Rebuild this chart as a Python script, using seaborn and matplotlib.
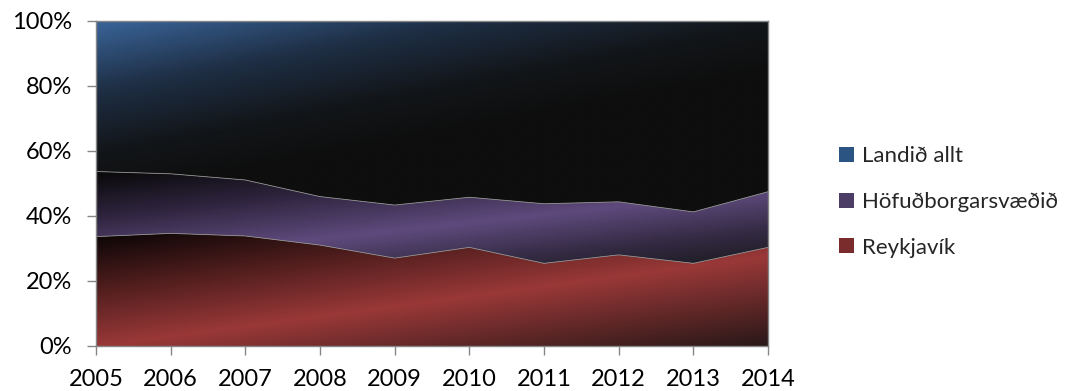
"""
100% stacked area chart: Reykjavík / Höfuðborgarsvæðið / Landið allt
"""
import numpy as np
import pandas as pd
import matplotlib
matplotlib.use('Agg')
import matplotlib.pyplot as plt
from matplotlib.colors import LinearSegmentedColormap
from matplotlib.patches import Patch
from matplotlib.ticker import PercentFormatter
import seaborn as sns

# data (shares in %)
years = [2005, 2006, 2007, 2008, 2009, 2010, 2011, 2012, 2013, 2014]
reykjavik = [33.6, 34.6, 33.8, 31.0, 27.0, 30.3, 25.4, 28.0, 25.4, 30.3]
hofudborg = [20.0, 18.3, 17.2, 14.9, 16.3, 15.4, 18.3, 16.3, 15.8, 17.1]
landid = [46.4, 47.1, 49.0, 54.1, 56.7, 54.3, 56.3, 55.7, 58.8, 52.6]
labels = ['Landið allt', 'Höfuðborgarsvæðið', 'Reykjavík']

sns.set_theme(style='white')
plt.rcParams['font.family'] = ['Lato', 'DejaVu Sans']

df = pd.DataFrame({'year': years, 'rvk': reykjavik, 'hof': hofudborg, 'land': landid})
tot = df[['rvk', 'hof', 'land']].sum(axis=1)
df['c1'] = df['rvk'] / tot
df['c2'] = (df['rvk'] + df['hof']) / tot
df['c3'] = 1.0


def gradient_fill(ax, x, lo, hi, stops, mode):
    """fill between lo and hi with a diagonal gradient (clipped image)"""
    poly = ax.fill_between(x, lo, hi, facecolor='none', edgecolor='none', zorder=1)
    y0, y1 = float(np.min(lo)), float(np.max(hi))
    u, v = np.meshgrid(np.linspace(0, 1, 400), np.linspace(0, 1, 200))
    if mode == 'up':
        t = (1 - v) * 1.5 + u
        t = np.clip(t / 1.4, 0, 1)
    else:
        t = v - 0.8 * u
        t = (t + 0.8) / 1.8
    cmap = LinearSegmentedColormap.from_list('g', stops)
    im = ax.imshow(t, cmap=cmap, vmin=0, vmax=1, origin='lower', aspect='auto',
                   extent=[x[0], x[-1], y0, y1], interpolation='bilinear', zorder=1)
    im.set_clip_path(poly.get_paths()[0], transform=ax.transData)
    return im


fig = plt.figure(figsize=(10.8, 3.91), dpi=100)
ax = fig.add_axes([96 / 1080, 45 / 391, 672 / 1080, 325.5 / 391])

x = np.array(years, dtype=float)
zeros = np.zeros(len(x))
gradient_fill(ax, x, zeros, df['c1'].values,
              [(0, '#2a1818'), (0.2, '#5c2626'), (0.44, '#9a3838'), (0.72, '#521e1e'), (1, '#0a0505')], 'down')
gradient_fill(ax, x, df['c1'].values, df['c2'].values,
              [(0, '#1c1a20'), (0.2, '#342b44'), (0.44, '#5f4a7d'), (0.72, '#2f253f'), (1, '#080808')], 'down')
gradient_fill(ax, x, df['c2'].values, df['c3'].values,
              [(0, '#3a659a'), (0.4, '#1e2e44'), (0.75, '#121518'), (1, '#0e0e0e')], 'up')

# thin light boundaries between the areas
sns.lineplot(data=df, x='year', y='c1', ax=ax, color='#8c8c8c', linewidth=0.6, zorder=3)
sns.lineplot(data=df, x='year', y='c2', ax=ax, color='#8c8c8c', linewidth=0.6, zorder=3)

ax.set_xlim(years[0], years[-1])
ax.set_ylim(0, 1)
ax.set_xticks(years)
ax.set_yticks(np.linspace(0, 1, 6))
ax.yaxis.set_major_formatter(PercentFormatter(1.0, decimals=0))
ax.set_xlabel('')
ax.set_ylabel('')
for s in ax.spines.values():
    s.set_visible(True)
    s.set_color('#868686')
    s.set_linewidth(1.0)
    s.set_zorder(4)
ax.tick_params(axis='both', which='major', labelsize=17, colors='#868686',
               labelcolor='#000000', length=6.5, width=1.0, direction='out',
               bottom=True, left=True)
ax.tick_params(axis='y', pad=11)
ax.tick_params(axis='x', pad=10)

handles = [Patch(facecolor='#2c5482', edgecolor='none'),
           Patch(facecolor='#4c3d66', edgecolor='none'),
           Patch(facecolor='#7a2c2c', edgecolor='none')]
fig.legend(handles, labels, loc='center left', bbox_to_anchor=(828 / 1080, 1 - 202 / 391),
           frameon=False, fontsize=16, handlelength=0.65, handleheight=0.65,
           handletextpad=0.4, labelspacing=1.15, borderpad=0)

fig.savefig('out.png', dpi=100)
